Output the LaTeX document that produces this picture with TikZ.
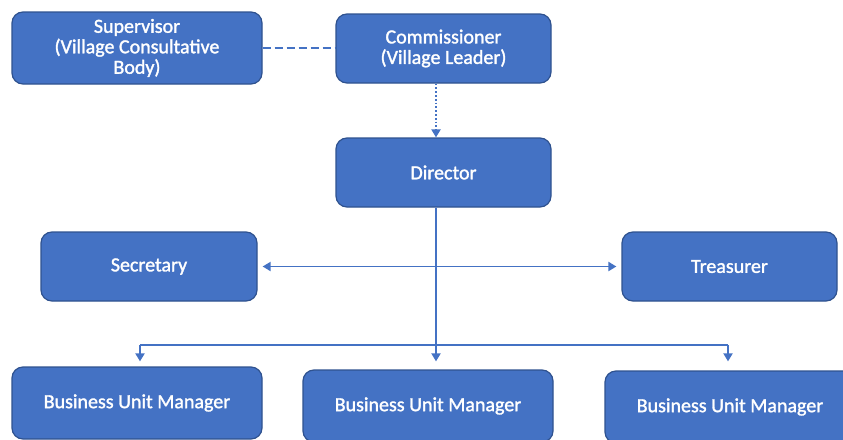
\documentclass[tikz,border=0pt]{standalone}
\usepackage{fontspec}
\setmainfont{Carlito}[FakeBold=1.5]
\usetikzlibrary{arrows.meta}
\definecolor{boxfill}{HTML}{4472C4}
\definecolor{boxedge}{HTML}{2F528F}
\definecolor{linec}{HTML}{4472C4}
\begin{document}
\begin{tikzpicture}[x=1pt,y=-1pt,
  box/.style={draw=boxedge, line width=1.2pt, fill=boxfill, rounded corners=11pt,
    text=white, align=center, inner sep=2pt,
    font=\fontsize{20}{20.5}\selectfont},
  conn/.style={draw=linec, line width=1.8pt},
  tip/.style={-{Triangle[length=8pt,width=9pt]}}
]
\clip (0,0) rectangle (843,439);
\fill[white] (0,0) rectangle (843,439);
\node[box, minimum width=250pt, minimum height=72pt] (sup) at (137,48) {Supervisor\\(Village Consultative\\Body)};
\node[box, minimum width=215pt, minimum height=69pt] (com) at (443.5,48.5) {Commissioner\\(Village Leader)};
\node[box, minimum width=215pt, minimum height=69pt] (dir) at (443.5,172.5) {Director};
\node[box, minimum width=216pt, minimum height=69pt] (sec) at (149,266.5) {Secretary};
\node[box, minimum width=215pt, minimum height=69pt] (tre) at (729.5,266.5) {Treasurer};
\node[box, minimum width=250pt, minimum height=72pt] (bum1) at (137,403) {Business Unit Manager};
\node[box, minimum width=250pt, minimum height=72pt] (bum2) at (428,406) {Business Unit Manager};
\node[box, minimum width=250pt, minimum height=72pt] (bum3) at (730,407) {Business Unit Manager};
\coordinate (spine) at (436,0);
\coordinate (bar) at (0,345);
\coordinate (b1) at (140,0);
\coordinate (b3) at (728,0);
% connectors
\draw[conn, dashed, dash pattern=on 8pt off 4pt] (sup.east) -- (sup.east -| com.west);
\draw[conn, tip, dotted, line width=2pt] (com.south -| spine) -- (dir.north -| spine);
\draw[conn, tip] (dir.south -| spine) -- ([yshift=8pt]bum2.north -| spine);
\draw[conn, {Triangle[length=8pt,width=9pt]}-{Triangle[length=8pt,width=9pt]}] ([xshift=5pt]sec.east) -- ([xshift=-5pt]tre.west);
\draw[conn] (bar -| b1) -- (bar -| b3);
\draw[conn, tip] (bar -| b1) -- ([yshift=5pt]bum1.north -| b1);
\draw[conn, tip] (bar -| b3) -- ([yshift=9pt]bum3.north -| b3);
\end{tikzpicture}
\end{document}
